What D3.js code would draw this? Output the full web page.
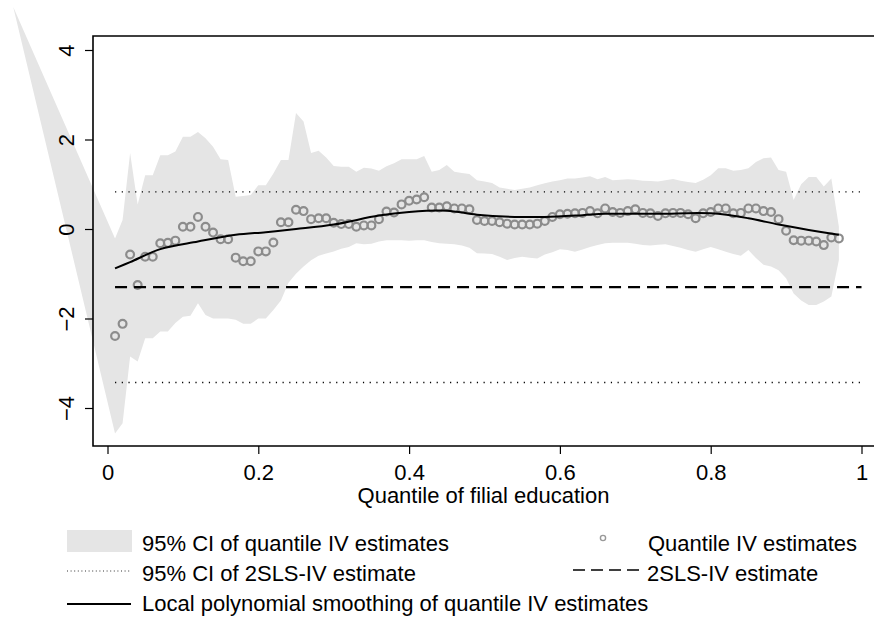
<!DOCTYPE html>
<html>
<head>
<meta charset="utf-8">
<script src="https://cdn.jsdelivr.net/npm/d3@7"></script>
<style>
  body { margin: 0; background: #fff; }
  svg text { font-family: "Liberation Sans", Arial, Helvetica, sans-serif; fill: #000; }
</style>
</head>
<body>
<div id="chart"></div>
<script>
// quantile grid of the IV estimates
var quantiles = [0.01,0.02,0.03,0.04,0.05,0.06,0.07,0.08,0.09,0.10,
  0.11,0.12,0.13,0.14,0.15,0.16,0.17,0.18,0.19,0.20,
  0.21,0.22,0.23,0.24,0.25,0.26,0.27,0.28,0.29,0.30,
  0.31,0.32,0.33,0.34,0.35,0.36,0.37,0.38,0.39,0.40,
  0.41,0.42,0.43,0.44,0.45,0.46,0.47,0.48,0.49,0.50,
  0.51,0.52,0.53,0.54,0.55,0.56,0.57,0.58,0.59,0.60,
  0.61,0.62,0.63,0.64,0.65,0.66,0.67,0.68,0.69,0.70,
  0.71,0.72,0.73,0.74,0.75,0.76,0.77,0.78,0.79,0.80,
  0.81,0.82,0.83,0.84,0.85,0.86,0.87,0.88,0.89,0.90,
  0.91,0.92,0.93,0.94,0.95,0.96,0.97];

// quantile IV point estimates
var estimates = [-2.39,-2.12,-0.57,-1.25,-0.62,-0.62,-0.32,-0.31,-0.26,0.05,
  0.05,0.27,0.05,-0.08,-0.23,-0.23,-0.64,-0.72,-0.72,-0.50,
  -0.50,-0.30,0.15,0.15,0.43,0.40,0.22,0.24,0.24,0.14,
  0.11,0.11,0.05,0.08,0.08,0.22,0.39,0.37,0.55,0.63,
  0.66,0.71,0.48,0.48,0.51,0.46,0.46,0.44,0.20,0.18,
  0.18,0.15,0.12,0.10,0.10,0.10,0.12,0.18,0.27,0.33,
  0.34,0.35,0.36,0.40,0.35,0.46,0.38,0.36,0.40,0.44,
  0.36,0.35,0.29,0.35,0.36,0.36,0.33,0.24,0.35,0.38,
  0.46,0.46,0.35,0.36,0.46,0.46,0.40,0.38,0.22,-0.04,
  -0.25,-0.26,-0.26,-0.28,-0.36,-0.19,-0.21];

// 95% CI of the quantile IV estimates
var ciLower = [-4.57,-4.34,-2.85,-2.96,-2.44,-2.44,-2.29,-2.29,-2.10,-1.96,
  -1.94,-1.66,-1.92,-2.00,-2.00,-2.00,-2.03,-2.12,-2.12,-2.00,
  -2.00,-1.81,-1.60,-1.20,-1.00,-0.84,-0.70,-0.60,-0.55,-0.50,
  -0.44,-0.40,-0.32,-0.34,-0.33,-0.28,-0.25,-0.25,-0.25,-0.26,
  -0.25,-0.25,-0.29,-0.32,-0.33,-0.34,-0.37,-0.42,-0.54,-0.55,
  -0.56,-0.62,-0.69,-0.65,-0.62,-0.64,-0.66,-0.57,-0.52,-0.45,
  -0.47,-0.51,-0.46,-0.40,-0.36,-0.32,-0.31,-0.31,-0.31,-0.33,
  -0.36,-0.37,-0.35,-0.34,-0.38,-0.42,-0.47,-0.51,-0.45,-0.40,
  -0.45,-0.51,-0.56,-0.60,-0.47,-0.65,-0.80,-0.84,-0.92,-1.10,
  -1.44,-1.60,-1.70,-1.70,-1.62,-1.51,-0.69];
var ciUpper = [-0.21,0.20,1.70,0.55,1.20,1.20,1.65,1.65,1.73,2.06,
  2.06,2.17,2.03,1.84,1.56,1.54,0.72,0.74,0.76,0.98,
  0.98,1.24,1.54,1.54,2.59,2.40,1.70,1.75,1.60,1.41,
  1.39,1.39,1.28,1.37,1.35,1.30,1.40,1.47,1.56,1.56,
  1.56,1.63,1.28,1.32,1.43,1.28,1.25,1.23,1.09,1.06,
  1.03,0.93,0.90,0.87,0.90,0.93,0.98,1.02,1.06,1.09,
  1.13,1.13,1.15,1.18,1.11,1.16,1.09,1.10,1.11,1.10,
  1.08,1.07,1.06,1.09,1.12,1.08,1.05,1.03,1.10,1.20,
  1.36,1.36,1.30,1.32,1.36,1.50,1.58,1.60,1.32,1.28,
  0.65,1.00,1.16,1.16,0.95,1.13,0.05];
// stray vertex of the shaded area, up in the top-left corner of the figure
var ciStray = { q: -0.125, v: 4.96 };

// local polynomial smoothing
var smoothQ = [0.01,0.03,0.07,0.12,0.17,0.21,0.25,0.30,0.36,0.40,0.45,0.49,
  0.54,0.58,0.63,0.66,0.73,0.80,0.85,0.89,0.93,0.97];
var smoothV = [-0.88,-0.74,-0.45,-0.28,-0.13,-0.07,0.00,0.10,0.30,0.38,0.41,0.32,
  0.27,0.27,0.31,0.34,0.34,0.35,0.24,0.10,-0.02,-0.13];

// 2SLS-IV estimate and its 95% CI
var tslsEstimate = -1.30;
var tslsCI = [-3.43, 0.83];
var tslsSpan = [0.01, 1.0];

var xTicks = [0, 0.2, 0.4, 0.6, 0.8, 1];
var yTicks = [-4, -2, 0, 2, 4];

var width = 874, height = 621;
var plotLeft = 93, plotTop = 36, plotBottom = 446;
var fontSize = "22px";

var svg = d3.select("#chart")
  .append("svg")
  .attr("width", width)
  .attr("height", height);

var x = d3.scaleLinear().domain([0, 1]).range([107.5, 861.5]);
var y = d3.scaleLinear().domain([-4, 4]).range([408, 50]);

// shaded CI band
var band = [{ q: ciStray.q, lo: ciStray.v, hi: ciStray.v }];
quantiles.forEach(function(q, i) {
  band.push({ q: q, lo: ciLower[i], hi: ciUpper[i] });
});
svg.append("path")
  .datum(band)
  .attr("d", d3.area()
    .x(function(d) { return x(d.q); })
    .y0(function(d) { return y(d.lo); })
    .y1(function(d) { return y(d.hi); }))
  .style("fill", "#e5e5e5")
  .style("stroke", "none");

// horizontal 2SLS CI lines
tslsCI.forEach(function(v) {
  svg.append("line")
    .attr("x1", x(tslsSpan[0])).attr("x2", x(tslsSpan[1]))
    .attr("y1", y(v)).attr("y2", y(v))
    .style("stroke", "#000")
    .style("stroke-width", 1.4)
    .style("stroke-dasharray", "1.2,5.5");
});

// point estimates
svg.append("g").selectAll("circle")
  .data(quantiles)
  .enter().append("circle")
  .attr("cx", function(d) { return x(d); })
  .attr("cy", function(d, i) { return y(estimates[i]); })
  .attr("r", 3.9)
  .style("fill", "none")
  .style("stroke", "#8c8c8c")
  .style("stroke-width", 2.2);

// smoothing line
svg.append("path")
  .datum(smoothQ)
  .attr("d", d3.line()
    .curve(d3.curveCatmullRom)
    .x(function(d) { return x(d); })
    .y(function(d, i) { return y(smoothV[i]); }))
  .style("fill", "none")
  .style("stroke", "#000")
  .style("stroke-width", 2);

svg.append("line")
  .attr("x1", x(tslsSpan[0])).attr("x2", x(tslsSpan[1]))
  .attr("y1", y(tslsEstimate)).attr("y2", y(tslsEstimate))
  .style("stroke", "#000")
  .style("stroke-width", 2.3)
  .style("stroke-dasharray", "12,7");

// plot frame (right edge falls off the image)
svg.append("path")
  .attr("d", "M" + (width + 2) + "," + plotTop + "H" + plotLeft + "V" + plotBottom + "H" + (width + 2))
  .style("fill", "none")
  .style("stroke", "#000")
  .style("stroke-width", 1.6);

// axes
var yAxis = svg.append("g")
  .attr("transform", "translate(" + plotLeft + ",0)")
  .call(d3.axisLeft(y).tickValues(yTicks).tickSize(8).tickPadding(0).tickFormat(d3.format("")));
yAxis.select(".domain").remove();
yAxis.selectAll("line").style("stroke", "#000").style("stroke-width", 1.2);
yAxis.selectAll("text")
  .attr("x", null).attr("dy", null)
  .attr("transform", "translate(-19,0) rotate(-90)")
  .style("text-anchor", "middle")
  .style("font-size", fontSize);

var xAxis = svg.append("g")
  .attr("transform", "translate(0," + plotBottom + ")")
  .call(d3.axisBottom(x).tickValues(xTicks).tickSize(8).tickPadding(0).tickFormat(d3.format("")));
xAxis.select(".domain").remove();
xAxis.selectAll("line").style("stroke", "#000").style("stroke-width", 1.2);
xAxis.selectAll("text")
  .attr("y", 34).attr("dy", null)
  .style("font-size", fontSize);

svg.append("text")
  .attr("x", (plotLeft + width) / 2)
  .attr("y", 503)
  .style("text-anchor", "middle")
  .style("font-size", fontSize)
  .text("Quantile of filial education");

// legend
var legend = svg.append("g").style("font-size", fontSize);
legend.append("rect")
  .attr("x", 67).attr("y", 530).attr("width", 65).attr("height", 22)
  .style("fill", "#e5e5e5");
legend.append("text").attr("x", 142).attr("y", 551).text("95% CI of quantile IV estimates");

legend.append("line")
  .attr("x1", 67).attr("x2", 131).attr("y1", 571).attr("y2", 571)
  .style("stroke", "#333").style("stroke-width", 1)
  .style("stroke-dasharray", "1,2.6");
legend.append("text").attr("x", 142).attr("y", 581).text("95% CI of 2SLS-IV estimate");

legend.append("line")
  .attr("x1", 67).attr("x2", 131).attr("y1", 604).attr("y2", 604)
  .style("stroke", "#000").style("stroke-width", 2);
legend.append("text").attr("x", 142).attr("y", 611).text("Local polynomial smoothing of quantile IV estimates");

legend.append("circle")
  .attr("cx", 603).attr("cy", 538).attr("r", 2.6)
  .style("fill", "none").style("stroke", "#999").style("stroke-width", 1.4);
legend.append("text").attr("x", 648).attr("y", 551).text("Quantile IV estimates");

legend.append("line")
  .attr("x1", 573).attr("x2", 639).attr("y1", 570).attr("y2", 570)
  .style("stroke", "#000").style("stroke-width", 1.6)
  .style("stroke-dasharray", "12,6");
legend.append("text").attr("x", 647).attr("y", 581).text("2SLS-IV estimate");
</script>
</body>
</html>
